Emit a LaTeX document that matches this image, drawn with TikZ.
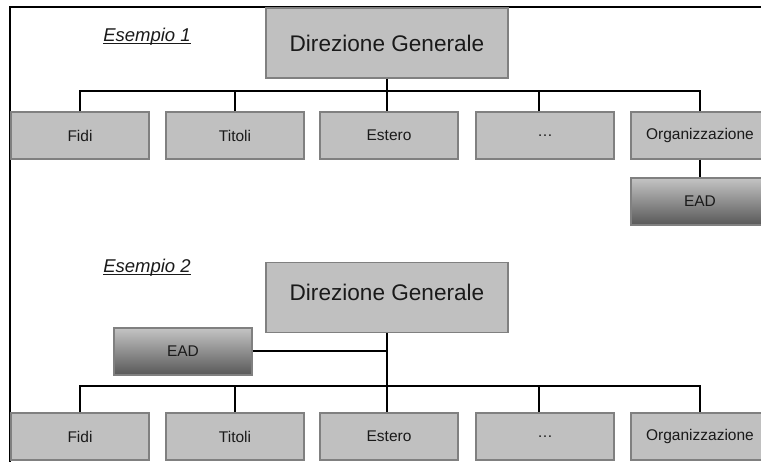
\documentclass[tikz,border=0pt]{standalone}
\usepackage{fontspec}
\setmainfont{Liberation Sans}
\definecolor{boxfill}{RGB}{192,192,192}
\definecolor{boxline}{RGB}{128,128,128}
\definecolor{shadetop}{RGB}{196,196,196}
\definecolor{shademid}{RGB}{166,166,166}
\definecolor{shadebot}{RGB}{88,88,88}
\definecolor{txt}{RGB}{26,26,26}
% underline sitting close to the baseline
\newcommand\tightul[1]{\setbox0\hbox{#1}\rlap{\rule[-2.6pt]{\wd0}{1.3pt}}\box0}
\tikzset{
  unitbox/.style={draw=boxline, line width=1.5pt, fill=boxfill, rectangle,
    minimum width=138pt, minimum height=47pt, inner sep=0pt,
    font=\fontsize{15.5}{18}\selectfont, text=txt},
  headbox/.style={unitbox, minimum width=242pt, minimum height=70pt,
    font=\fontsize{22.6}{26}\selectfont},
  staffbox/.style={unitbox, fill=none, top color=shadetop, middle color=shademid,
    bottom color=shadebot},
  wire/.style={draw=black, line width=2pt},
  caption/.style={font=\fontsize{18.5}{22}\selectfont\itshape, text=txt, inner sep=0pt},
  frame/.style={draw=black, line width=2.5pt}
}
\begin{document}
\begin{tikzpicture}[x=1pt, y=-1pt]
  \useasboundingbox (0,0) rectangle (761,462);
  \fill[white] (0,0) rectangle (761,462);
  \draw[frame] (10,462) -- (10,7) -- (761,7);

  % --- first chart: staff unit hanging below Organizzazione
  \node[caption] (cap1) at (147,37) {\tightul{Esempio 1}};
  \node[headbox] (dg1) at (387,43) {Direzione Generale};
  \node[unitbox] (fidi1) at (80,135.5) {Fidi};
  \node[unitbox] (tit1) at (235,135.5) {Titoli};
  \node[unitbox] (est1) at (389,135.5) {Estero};
  \node[unitbox] (dots1) at (545,135.5) {\dots};
  \node[unitbox] (org1) at (700,135.5) {Organizzazione};
  \node[staffbox] (ead1) at (700,201.5) {EAD};

  \draw[wire] (fidi1.north) -- ++(0,-20) -| (org1.north);
  \draw[wire] (tit1.north) -- ++(0,-20);
  \draw[wire] ([xshift=-6pt]dots1.north) -- ++(0,-20);
  \draw[wire] (dg1.south) -- (dg1.south |- est1.north);
  \draw[wire] (org1.south) -- (ead1.north);

  % --- second chart: staff unit attached to the Direzione Generale line
  \node[caption] (cap2) at (147,268) {\tightul{Esempio 2}};
  \node[headbox] (dg2) at (387,297.5) {\raisebox{-3pt}[0pt][0pt]{Direzione Generale}};
  \node[staffbox] (ead2) at (183,351.5) {EAD};
  \node[unitbox] (fidi2) at (80,436.5) {Fidi};
  \node[unitbox] (tit2) at (235,436.5) {Titoli};
  \node[unitbox] (est2) at (389,436.5) {Estero};
  \node[unitbox] (dots2) at (545,436.5) {\dots};
  \node[unitbox] (org2) at (700,436.5) {Organizzazione};

  \draw[wire] (fidi2.north) -- ++(0,-26) -| (org2.north);
  \draw[wire] (tit2.north) -- ++(0,-26);
  \draw[wire] ([xshift=-6pt]dots2.north) -- ++(0,-26);
  \draw[wire] (dg2.south) -- (dg2.south |- est2.north);
  \draw[wire] (ead2.east) -- (ead2.east -| dg2.south);
\end{tikzpicture}
\end{document}
